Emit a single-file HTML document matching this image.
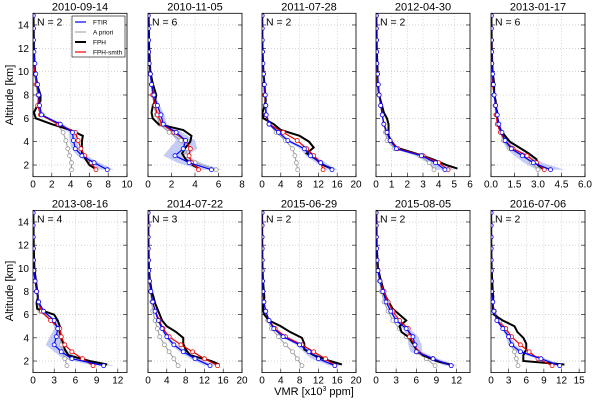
<!DOCTYPE html>
<html><head><meta charset="utf-8">
<style>
body{margin:0;background:#fff;}
svg{display:block;font-family:"Liberation Sans",sans-serif;}
</style></head>
<body>
<svg id="chart" width="600" height="402" viewBox="0 0 600 402"></svg>
<script>
const titles=["2010-09-14","2010-11-05","2011-07-28","2012-04-30","2013-01-17","2013-08-16","2014-07-22","2015-06-29","2015-08-05","2016-07-06"];
const nObs=[2,6,2,2,6,4,3,2,2,2];
const xMaxes=[10,8,20,6,6,13.3,20,20,14,16];
const xSteps=[2,2,4,1,1.5,3,4,4,3,3];
const altGrid=[1.6,2.2,2.8,3.4,4.1,4.8,5.5,6.3,7.1,8.0,8.9,9.8,10.7,11.7,12.7,13.7,14.8];
const fphAlt=[1.7,2,2.5,3,3.5,4,4.5,5,5.5,6,6.5,7,7.5,8,9,10,12,15];
const ftir=[
[7.9,6.5,5.2,4.5,4.3,4.2,2.9,0.9,0.7,0.6,0.5,0.3,0.2,0.1,0.05,0.05,0.03],
[5.4,3.5,2.3,3.0,3.2,2.4,1.3,1.1,0.8,0.5,0.3,0.2,0.1,0.05,0.05,0.03,0.02],
[14.9,12.5,10.3,9.0,5.5,3.5,1.5,0.9,0.8,0.7,0.5,0.3,0.2,0.1,0.05,0.05,0.03],
[4.4,3.8,2.9,1.3,0.9,0.7,0.5,0.4,0.3,0.2,0.15,0.1,0.05,0.04,0.03,0.02,0.02],
[3.8,2.7,2.0,1.3,0.9,0.7,0.5,0.4,0.3,0.2,0.15,0.1,0.05,0.04,0.03,0.02,0.02],
[10,5.5,4,3,3.3,3.5,3,1.5,0.8,0.5,0.3,0.1,0.05,0.05,0.03,0.02,0.02],
[13.2,10,7.5,5.5,4,3,2.2,1.5,1.0,0.6,0.3,0.15,0.1,0.05,0.03,0.02,0.02],
[15.5,12,10,8,4.5,2.5,1.5,0.8,0.4,0.2,0.1,0.05,0.05,0.03,0.02,0.02,0.02],
[11.2,8.5,6,5.8,5.5,4.5,3,2.2,1.5,1,0.6,0.3,0.15,0.1,0.05,0.03,0.02],
[11.7,8.5,5,3.5,3,2,1,0.5,0.3,0.1,0.05,0.05,0.03,0.03,0.02,0.02,0.02]];
const ftirErr=[
[0.7,0.6,0.5,0.4,0.4,0.4,0.3,0.2,0.1,0.1,0.05,0,0,0,0,0,0],
[0.9,1.0,1.0,1.2,0.8,0.5,0.3,0.3,0.2,0.1,0.05,0,0,0,0,0,0],
[1.2,1.0,1.0,0.8,0.6,0.4,0.3,0.2,0.1,0.1,0.05,0,0,0,0,0,0],
[0.6,0.5,0.4,0.2,0.1,0.1,0.05,0.05,0,0,0,0,0,0,0,0,0],
[0.9,0.6,0.5,0.3,0.2,0.1,0.05,0.05,0,0,0,0,0,0,0,0,0],
[1.5,1.2,1.0,1.2,0.9,0.5,0.3,0.2,0.1,0.05,0,0,0,0,0,0,0],
[1.2,1.0,0.8,0.6,0.4,0.3,0.2,0.1,0.05,0,0,0,0,0,0,0,0],
[1.2,1.5,1.2,0.8,0.5,0.3,0.2,0.1,0,0,0,0,0,0,0,0,0],
[1.0,0.8,0.9,1.0,0.8,0.5,0.3,0.2,0.1,0.05,0,0,0,0,0,0,0],
[1.0,0.8,0.8,0.6,0.4,0.2,0.1,0.05,0,0,0,0,0,0,0,0,0]];
const apriori=[
[4.1,4.1,3.9,3.7,3.5,3.2,2.6,1.0,0.6,0.5,0.3,0.2,0.1,0.05,0.03,0.03,0.02],
[5.8,4.0,3.2,3.3,2.8,1.8,1.0,0.7,0.5,0.4,0.3,0.2,0.1,0.05,0.03,0.02,0.02],
[7.6,7.3,7.0,6.5,5.0,3.0,1.5,0.8,0.6,0.5,0.4,0.3,0.15,0.1,0.05,0.03,0.02],
[3.7,3.4,2.8,1.2,0.7,0.6,0.5,0.4,0.3,0.2,0.1,0.08,0.05,0.04,0.03,0.02,0.02],
[3.0,2.6,2.0,1.2,0.8,0.6,0.4,0.3,0.25,0.2,0.1,0.08,0.05,0.04,0.03,0.02,0.02],
[4.8,4.5,4.2,4,3.8,3.5,2.5,1,0.7,0.5,0.3,0.2,0.1,0.05,0.03,0.02,0.02],
[6.4,5.5,4.5,3.5,2.5,2,1.5,1,0.8,0.5,0.3,0.15,0.1,0.05,0.03,0.02,0.02],
[8.5,7.5,6.5,5,3.5,2,1.2,0.6,0.3,0.2,0.1,0.05,0.05,0.03,0.02,0.02,0.02],
[8.8,7.5,6,5.5,4.5,3.5,2.5,1.8,1.2,0.8,0.5,0.2,0.1,0.05,0.03,0.02,0.02],
[4.6,4.3,4,3.5,3,2.5,1.5,0.6,0.3,0.15,0.1,0.05,0.03,0.03,0.02,0.02,0.02]];
const fphSmth=[
[6.7,6.2,5.5,5.1,4.8,4.5,2.7,0.8,0.5,0.6,0.4,0.2,0.1,0.05,0.03,0.03,0.02],
[4.3,3.7,3.5,3.6,3.2,2.2,1.2,0.8,0.6,0.4,0.3,0.2,0.1,0.05,0.03,0.02,0.02],
[13,12.5,11,9.5,7.5,4.5,1.5,0.8,0.8,0.6,0.4,0.3,0.15,0.1,0.05,0.03,0.02],
[4.6,4.0,3.0,1.4,0.9,0.7,0.5,0.4,0.3,0.2,0.1,0.08,0.05,0.04,0.03,0.02,0.02],
[3.4,2.9,2.3,1.4,0.9,0.6,0.4,0.35,0.3,0.2,0.1,0.08,0.05,0.04,0.03,0.02,0.02],
[8.5,7,5.5,4.5,4,3.8,2.5,1.2,0.8,0.5,0.3,0.1,0.05,0.05,0.03,0.02,0.02],
[14.8,12,9.5,7,4.5,3.2,2.4,1.6,1,0.6,0.3,0.15,0.1,0.05,0.03,0.02,0.02],
[15.5,13.5,11,8.5,5,2.8,1.5,0.8,0.4,0.2,0.1,0.05,0.05,0.03,0.02,0.02,0.02],
[11.2,8.5,6.2,5.8,5,4.8,3.5,2.5,1.8,1.2,0.6,0.3,0.15,0.1,0.05,0.03,0.02],
[10.4,8,6.5,5,3.5,2.5,1,0.5,0.3,0.1,0.05,0.05,0.03,0.03,0.02,0.02,0.02]];
const fph=[
[6.6,6.0,5.6,5.2,5.2,5.2,5.3,4.0,2.0,0.3,0.1,0.4,0.8,0.8,0.4,0.2,0.1,0.05],
[4.3,3.8,3.2,2.9,3.2,3.6,3.7,3.0,0.9,0.4,0.3,0.4,0.6,0.7,0.4,0.2,0.1,0.05],
[14.8,13,11.5,9.5,11,10,8,4,2.5,0.3,0.1,0.5,0.8,0.7,0.5,0.3,0.1,0.05],
[5.2,4.5,3.6,2.5,1.3,1.0,0.8,0.8,0.8,0.7,0.5,0.4,0.3,0.2,0.1,0.1,0.05,0.02],
[3.3,3.0,2.9,2.4,1.8,1.2,0.9,0.6,0.5,0.4,0.4,0.3,0.3,0.2,0.2,0.1,0.05,0.02],
[10.5,8,5,4.5,4.3,4,3.8,3.8,3.5,3,0.6,0.5,0.7,0.6,0.4,0.2,0.1,0.05],
[15.2,13.5,9,8,7.5,7.5,6,4,3,2.5,2,1.5,1.2,0.8,0.4,0.2,0.1,0.05],
[17,14.5,11,9,9,8.5,6,4,1.5,0.5,0.2,0.3,0.5,0.4,0.2,0.1,0.05,0.02],
[11,9,7,6,5.5,5,3.8,3.5,4.5,3.5,2.5,2,1.5,1.2,0.7,0.3,0.1,0.05],
[12.5,5.5,5.5,6,6,5.5,4.5,4,2,0.5,0.3,0.3,0.4,0.3,0.2,0.1,0.05,0.02]];

const NS="http://www.w3.org/2000/svg";
const svg=document.getElementById('chart');
function mk(tag,attrs,parent){const e=document.createElementNS(NS,tag);for(const k in attrs)e.setAttribute(k,attrs[k]);(parent||svg).appendChild(e);return e;}
const colX=[33,148,262,376,491], W=94;
const rowTop=[13.3,210.4], rowBot=[176.7,372.6];
for(let p=0;p<10;p++){
  const r=Math.floor(p/5), c=p%5;
  const x0=colX[c], y0=rowTop[r], y1=rowBot[r];
  const xs=v=>x0+v/xMaxes[p]*W;
  const ys=a=>y1-(a-1)/14*(y1-y0);
  const g=mk('g',{});
  
  
  const clipId='clip'+p;
  const cp=mk('clipPath',{id:clipId},g);mk('rect',{x:x0,y:y0,width:W,height:y1-y0},cp);
  for(let t=2;t<=14;t+=2){
    const y=ys(t);
    const gl=mk('line',{x1:x0,x2:x0+W,y1:y,y2:y,stroke:'#bbb','stroke-width':0.6,'stroke-dasharray':'1,2'},g);
    
    
    mk('line',{x1:x0,x2:x0+4,y1:y,y2:y,stroke:'#000','stroke-width':0.6},g);
    mk('line',{x1:x0+W-4,x2:x0+W,y1:y,y2:y,stroke:'#000','stroke-width':0.6},g);
    if(c===0){const tl=mk('text',{x:x0-4,y:y+3.5,'font-size':10,'text-anchor':'end',fill:'#000'},g);tl.textContent=t;
      
      }
  }
  for(let k=0;;k++){
    const v=+(k*xSteps[p]).toFixed(2); if(v>xMaxes[p]+1e-6)break;
    const x=xs(v);
    if(k>0){const gl=mk('line',{x1:x,x2:x,y1:y0,y2:y1,stroke:'#bbb','stroke-width':0.6,'stroke-dasharray':'1,2'},g);
      
      }
    mk('line',{x1:x,x2:x,y1:y1,y2:y1-4,stroke:'#000','stroke-width':0.6},g);
    const tl=mk('text',{x:x,y:y1+11,'font-size':10,'text-anchor':'middle',fill:'#000'},g);
    tl.textContent=(xSteps[p]%1!==0)?v.toFixed(1):v;
    
    
  }
  const pg=mk('g',{'clip-path':'url(#'+clipId+')'},g);
  let pts=[];
  for(let i=0;i<altGrid.length;i++)pts.push(xs(Math.max(0,ftir[p][i]-ftirErr[p][i]))+','+ys(altGrid[i]));
  for(let i=altGrid.length-1;i>=0;i--)pts.push(xs(ftir[p][i]+ftirErr[p][i])+','+ys(altGrid[i]));
  const band=mk('polygon',{points:pts.join(' '),fill:'#8c9cf0','fill-opacity':0.5,stroke:'none'},pg);
  
  
  const line=(vals,alts,col,w,name,markers)=>{
    const pl=mk('polyline',{points:vals.map((v,i)=>xs(v)+','+ys(alts[i])).join(' '),fill:'none',stroke:col,'stroke-width':w},pg);
    
    
    if(markers)vals.forEach((v,i)=>{const m=mk('circle',{cx:xs(v),cy:ys(alts[i]),r:2,fill:'#fff',stroke:col,'stroke-width':0.8},pg);
      
      });
  };
  line(apriori[p],altGrid,'#999',1,'apriori',true);
  line(fph[p],fphAlt,'#000',2,'fph',false);
  line(fphSmth[p],altGrid,'#e00',1.2,'fph-smth',true);
  line(ftir[p],altGrid,'#00f',1.2,'ftir',true);
  const fr=mk('rect',{x:x0,y:y0,width:W,height:y1-y0,fill:'none',stroke:'#000','stroke-width':0.8},g);
  
  
  const tt=mk('text',{x:x0+W/2,y:y0-3,'font-size':11,'text-anchor':'middle',fill:'#000'},g);tt.textContent=titles[p];
  
  
  const nt=mk('text',{x:x0+4,y:y0+12,'font-size':10.5,fill:'#000'},g);nt.textContent='N = '+nObs[p];
  
  
}
const lg=mk('g',{});


mk('rect',{x:72,y:16,width:53,height:41,fill:'#fff',stroke:'#000','stroke-width':0.6},lg);
const legItems=[["FTIR",'#00f',1.2],["A priori",'#999',1],["FPH",'#000',2],["FPH-smth",'#e00',1.2]];
legItems.forEach((it,i)=>{
  const y=22+i*10;
  mk('line',{x1:75,x2:86,y1:y,y2:y,stroke:it[1],'stroke-width':it[2]},lg);
  const t=mk('text',{x:93,y:y+2.5,'font-size':6.5,fill:'#000'},lg);t.textContent=it[0];
  
  
});
const ya=mk('text',{x:0,y:0,'font-size':11,'text-anchor':'middle',transform:'translate(13,95) rotate(-90)'});ya.textContent='Altitude [km]';


const ya2=mk('text',{x:0,y:0,'font-size':11,'text-anchor':'middle',transform:'translate(13,291) rotate(-90)'});ya2.textContent='Altitude [km]';


const xa=mk('text',{x:314,y:395,'font-size':11,'text-anchor':'middle'});
xa.innerHTML='VMR [x10<tspan dy="-4" font-size="7">3</tspan><tspan dy="4"> ppm]</tspan>';


</script>
</body></html>
